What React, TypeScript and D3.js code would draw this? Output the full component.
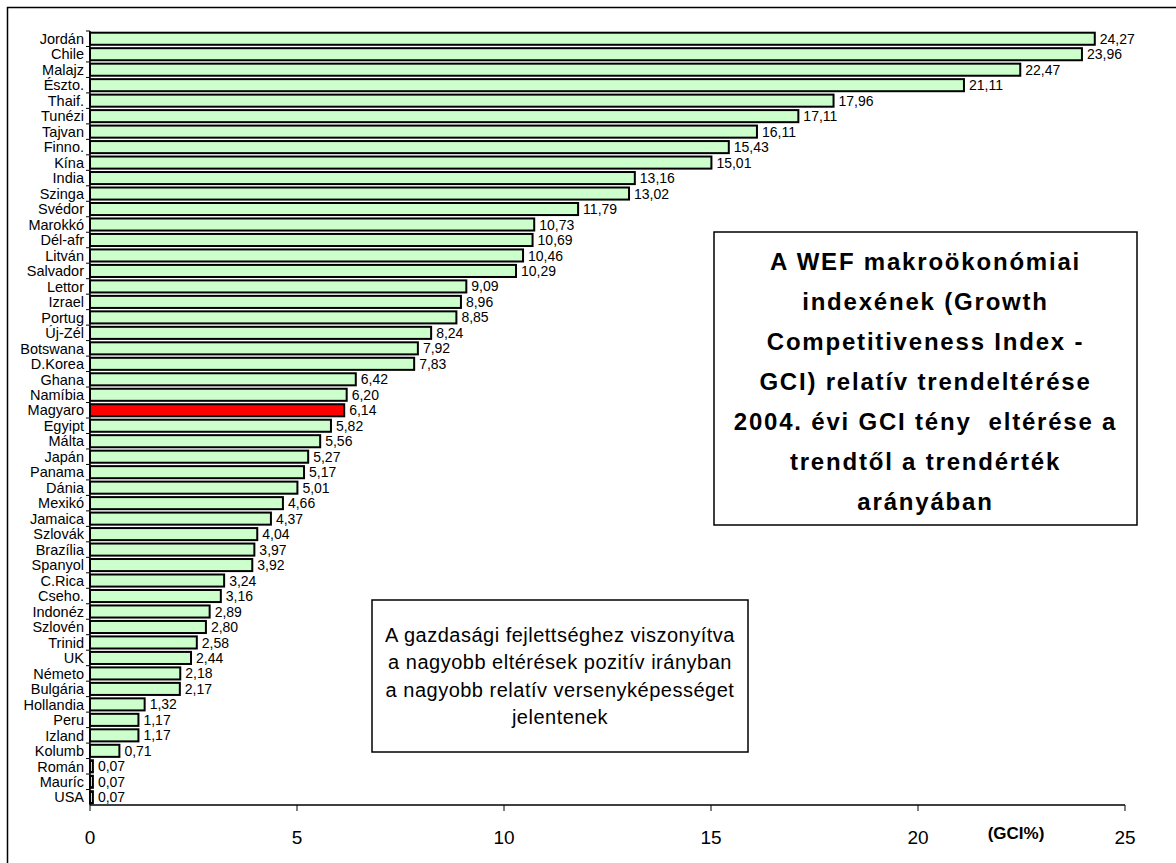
import React from "react";
import * as d3 from "d3";

const categories = ["Jordán","Chile","Malajz","Észto.","Thaif.","Tunézi","Tajvan","Finno.","Kína","India","Szinga","Svédor","Marokkó","Dél-afr","Litván","Salvador","Lettor","Izrael","Portug","Új-Zél","Botswana","D.Korea","Ghana","Namíbia","Magyaro","Egyipt","Málta","Japán","Panama","Dánia","Mexikó","Jamaica","Szlovák","Brazília","Spanyol","C.Rica","Cseho.","Indonéz","Szlovén","Trinid","UK","Németo","Bulgária","Hollandia","Peru","Izland","Kolumb","Román","Mauríc","USA"];
const values = [24.27,23.96,22.47,21.11,17.96,17.11,16.11,15.43,15.01,13.16,13.02,11.79,10.73,10.69,10.46,10.29,9.09,8.96,8.85,8.24,7.92,7.83,6.42,6.20,6.14,5.82,5.56,5.27,5.17,5.01,4.66,4.37,4.04,3.97,3.92,3.24,3.16,2.89,2.80,2.58,2.44,2.18,2.17,1.32,1.17,1.17,0.71,0.07,0.07,0.07];
const highlight = "Magyaro";
const xTicks = [0,5,10,15,20,25];
const titleLines = ["A WEF makroökonómiai","indexének (Growth","Competitiveness Index -","GCI) relatív trendeltérése","2004. évi GCI tény  eltérése a","trendtől a trendérték","arányában"];
const noteLines = ["A gazdasági fejlettséghez viszonyítva","a nagyobb eltérések pozitív irányban","a nagyobb relatív versenyképességet","jelentenek"];
const axisUnit = "(GCI%)";

const FONT = "'Liberation Sans', Arial, Helvetica, sans-serif";

export default function App() {
  const W = 1176, H = 863;
  const left = 90, right = 1125, top = 31, bottom = 805;
  const x = d3.scaleLinear().domain([0, 25]).range([left, right]);
  const y = d3.scaleBand<string>().domain(categories).range([top, bottom]).paddingInner(0.22).paddingOuter(0.11);
  const step = y.step();
  const fmt = (v: number) => d3.format(".2f")(v).replace(".", ",");

  const tBox = { x0: 714, y0: 232, x1: 1137, y1: 525 };
  const tCx = (tBox.x0 + tBox.x1) / 2;
  const tLine = 40;
  const tMid = (tBox.y0 + tBox.y1) / 2 + 3;
  const nBox = { x0: 372, y0: 600, x1: 748, y1: 752 };
  const nCx = (nBox.x0 + nBox.x1) / 2;
  const nLine = 27.5;
  const nMid = (nBox.y0 + nBox.y1) / 2;

  return (
    <svg width={W} height={H} style={{ position: "absolute", left: 0, top: 0, background: "#fff" }} fontFamily={FONT}>
      <rect x={7.5} y={7.5} width={W + 20} height={H + 20} fill="#fff" stroke="#000" strokeWidth={1.5} />
      {categories.map((c, i) => (
        <rect key={c} x={x(0)} y={y(c)} width={x(values[i]) - x(0)} height={y.bandwidth()}
          fill={c === highlight ? "#ff0000" : "#ccffcc"} stroke="#000" strokeWidth={2} />
      ))}
      {categories.map((c, i) => (
        <text key={"v" + c} x={x(values[i]) + 5} y={(y(c) as number) + y.bandwidth() / 2} dy="0.36em" fontSize={14} fill="#000">{fmt(values[i])}</text>
      ))}
      <line x1={left} x2={left} y1={top} y2={bottom} stroke="#000" strokeWidth={1.5} />
      {categories.map((c, i) => (
        <line key={"yt" + c} x1={left - 4} x2={left} y1={top + i * step} y2={top + i * step} stroke="#000" strokeWidth={1} />
      ))}
      {categories.map((c) => (
        <text key={"c" + c} x={left - 6} y={(y(c) as number) + y.bandwidth() / 2} dy="0.36em" textAnchor="end" fontSize={14.5} fill="#000">{c}</text>
      ))}
      <line x1={left} x2={right} y1={bottom} y2={bottom} stroke="#000" strokeWidth={1.5} />
      {xTicks.map((t) => (
        <g key={"xt" + t}>
          <line x1={x(t)} x2={x(t)} y1={bottom} y2={bottom + 6} stroke="#000" strokeWidth={1} />
          <text x={x(t)} y={bottom + 32} dy="0.36em" textAnchor="middle" fontSize={19} fill="#000">{t}</text>
        </g>
      ))}
      <text x={1016} y={bottom + 28} dy="0.36em" textAnchor="middle" fontSize={17} fontWeight="bold" fill="#000">{axisUnit}</text>
      <rect x={tBox.x0} y={tBox.y0} width={tBox.x1 - tBox.x0} height={tBox.y1 - tBox.y0} fill="#fff" stroke="#000" strokeWidth={1.5} />
      {titleLines.map((l, i) => (
        <text key={"t" + i} x={tCx} y={tMid + (i - (titleLines.length - 1) / 2) * tLine} dy="0.36em" textAnchor="middle" fontSize={24} fontWeight="bold" letterSpacing={1.8} fill="#000" style={{ whiteSpace: "pre" }}>{l}</text>
      ))}
      <rect x={nBox.x0} y={nBox.y0} width={nBox.x1 - nBox.x0} height={nBox.y1 - nBox.y0} fill="#fff" stroke="#000" strokeWidth={1.5} />
      {noteLines.map((l, i) => (
        <text key={"n" + i} x={nCx} y={nMid + (i - (noteLines.length - 1) / 2) * nLine} dy="0.36em" textAnchor="middle" fontSize={20} letterSpacing={0.5} fill="#000">{l}</text>
      ))}
    </svg>
  );
}
